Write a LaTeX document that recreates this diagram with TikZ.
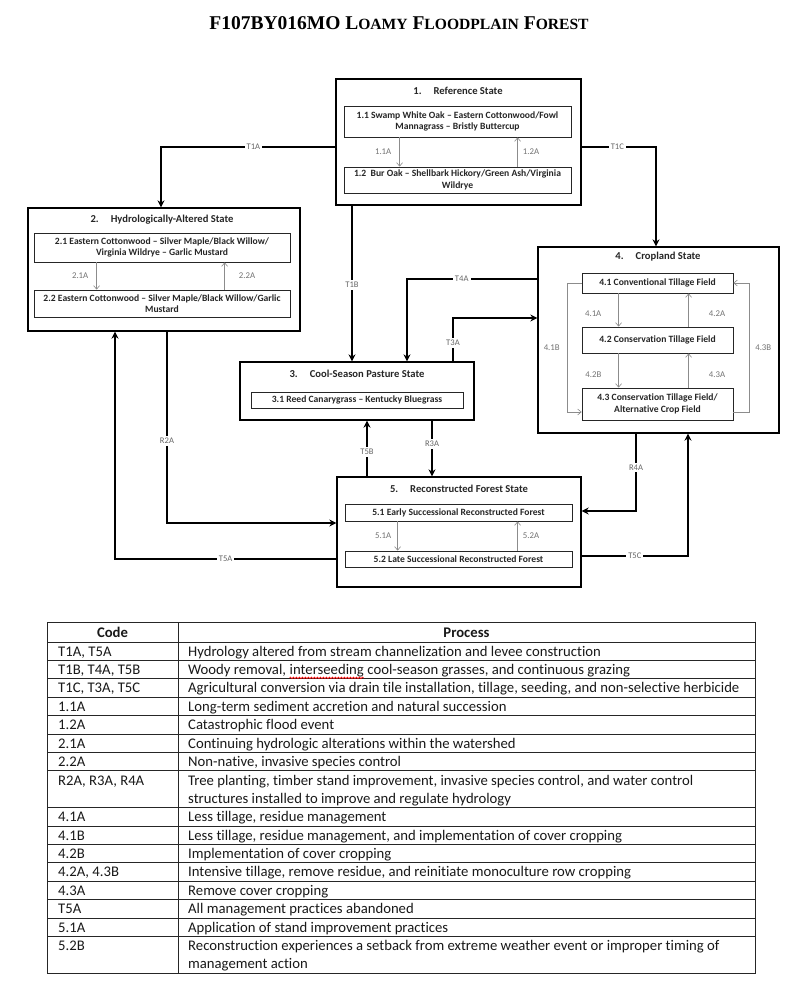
\documentclass[tikz,border=0pt]{standalone}
\usepackage{fontspec}
\setmainfont{Carlito}[Ligatures=NoCommon]
\newfontfamily\titlefont{Liberation Serif}
\usetikzlibrary{arrows.meta,decorations.pathmorphing}
\newcommand\smc[1]{{\fontsize{15.6}{18}\selectfont #1}}
\begin{document}
\begin{tikzpicture}[x=1pt,y=-1pt,
  sbox/.style={draw=black, line width=1.3pt, inner sep=0pt},
  ibox/.style={draw=black!85, line width=0.8pt, inner sep=0pt, align=center,
    font=\bfseries\fontsize{9.6}{11.6}\selectfont, text=black!85},
  stitle/.style={font=\bfseries\fontsize{10.6}{12}\selectfont, text=black!85, inner sep=0pt},
  conn/.style={draw=black, line width=1.4pt, -{Stealth[length=7pt,width=7pt]}},
  lbl/.style={fill=white, text=black!60, font=\fontsize{8.6}{10}\selectfont, inner sep=2pt},
  inarr/.style={draw=black!45, line width=0.6pt, -{Straight Barb[length=3.5pt,width=6pt]}},
  ilbl/.style={text=black!55, font=\fontsize{8.8}{10}\selectfont, inner sep=1pt},
  tbl/.style={draw=black!85, line width=0.8pt},
  tc/.style={font=\fontsize{14.7}{16}\selectfont, inner sep=0pt, anchor=base west, text=black!90},
  th/.style={font=\bfseries\fontsize{14.7}{16}\selectfont, inner sep=0pt, anchor=base, text=black!90},
  wave/.style={draw=red, line width=0.6pt, decorate, decoration={snake, amplitude=0.8pt, segment length=3pt}}
]
\fill[white] (0,0) rectangle (800,999);
\useasboundingbox (0,0) rectangle (800,999);

% title
\node[font=\titlefont\bfseries\fontsize{19.5}{22}\selectfont, inner sep=0pt] (title) at (399,23)
  {F107BY016MO L\smc{OAMY} F\smc{LOODPLAIN} F\smc{OREST}};

% state boxes
\node[sbox, minimum width=245pt, minimum height=126pt] (b1) at (458.5,142) {};
\node[sbox, minimum width=272pt, minimum height=123pt] (b2) at (164,269.5) {};
\node[sbox, minimum width=234pt, minimum height=58pt] (b3) at (357,391) {};
\node[sbox, minimum width=241pt, minimum height=186pt] (b4) at (658.5,340) {};
\node[sbox, minimum width=244pt, minimum height=110pt] (b5) at (459,532) {};

% state titles
\node[stitle] (b1t) at (458,91) {1.\hspace{12pt}Reference State};
\node[stitle] (b2t) at (162,220) {2.\hspace{12pt}Hydrologically-Altered State};
\node[stitle] (b3t) at (357,374) {3.\hspace{12pt}Cool-Season Pasture State};
\node[stitle] (b4t) at (658,257) {4.\hspace{12pt}Cropland State};
\node[stitle] (b5t) at (459,489) {5.\hspace{12pt}Reconstructed Forest State};

% community phase boxes
\node[ibox, minimum width=227pt, minimum height=31pt] (i11) at (457.5,121.5)
  {1.1 Swamp White Oak – Eastern Cottonwood/Fowl\\Mannagrass – Bristly Buttercup};
\node[ibox, minimum width=227pt, minimum height=26pt] (i12) at (457.5,180)
  {1.2\ \ Bur Oak – Shellbark Hickory/Green Ash/Virginia\\Wildrye};
\node[ibox, minimum width=256pt, minimum height=29pt] (i21) at (162,247.5)
  {2.1 Eastern Cottonwood – Silver Maple/Black Willow/\\Virginia Wildrye – Garlic Mustard};
\node[ibox, minimum width=256pt, minimum height=27pt] (i22) at (162,303.5)
  {2.2 Eastern Cottonwood – Silver Maple/Black Willow/Garlic\\Mustard};
\node[ibox, minimum width=212pt, minimum height=16pt] (i31) at (357,400)
  {3.1 Reed Canarygrass – Kentucky Bluegrass};
\node[ibox, minimum width=151pt, minimum height=20pt] (i41) at (657.5,283)
  {4.1 Conventional Tillage Field};
\node[ibox, minimum width=151pt, minimum height=26pt] (i42) at (657.5,340)
  {4.2 Conservation Tillage Field};
\node[ibox, minimum width=151pt, minimum height=32pt] (i43) at (657.5,404)
  {4.3 Conservation Tillage Field/\\Alternative Crop Field};
\node[ibox, minimum width=227pt, minimum height=17pt] (i51) at (458.5,512.5)
  {5.1 Early Successional Reconstructed Forest};
\node[ibox, minimum width=227pt, minimum height=16pt] (i52) at (458.5,559)
  {5.2 Late Successional Reconstructed Forest};

% inner transitions
\draw[inarr] ([xshift=56pt]i11.south west) -- node[ilbl, left=7pt] {1.1A} ([xshift=56pt]i12.north west);
\draw[inarr] ([xshift=174pt]i12.north west) -- node[ilbl, right=4pt] {1.2A} ([xshift=174pt]i11.south west);
\draw[inarr] ([xshift=63pt]i21.south west) -- node[ilbl, left=7pt] {2.1A} ([xshift=63pt]i22.north west);
\draw[inarr] ([xshift=191pt]i22.north west) -- node[ilbl, right=13pt] {2.2A} ([xshift=191pt]i21.south west);
\draw[inarr] ([xshift=37pt]i41.south west) -- node[ilbl, left=16pt, yshift=-4pt] {4.1A} ([xshift=37pt]i42.north west);
\draw[inarr] ([xshift=107pt]i42.north west) -- node[ilbl, right=19pt, yshift=-4pt] {4.2A} ([xshift=107pt]i41.south west);
\draw[inarr] ([xshift=37pt]i42.south west) -- node[ilbl, left=16pt, yshift=-4pt] {4.2B} ([xshift=37pt]i43.north west);
\draw[inarr] ([xshift=107pt]i43.north west) -- node[ilbl, right=19pt, yshift=-4pt] {4.3A} ([xshift=107pt]i42.south west);
\coordinate (l41) at (567,412);
\coordinate (r43) at (749,283);
\draw[inarr] (i41.west) -| node[ilbl, pos=0.75, left=6pt] {4.1B} (l41) -- (l41 -| i43.west);
\draw[inarr] ([yshift=-8pt]i43.east) -| node[ilbl, pos=0.75, right=5pt] {4.3B} (r43) -- (r43 -| i41.east);
\draw[inarr] ([xshift=53pt]i51.south west) -- node[ilbl, left=5pt] {5.1A} ([xshift=53pt]i52.north west);
\draw[inarr] ([xshift=173pt]i52.north west) -- node[ilbl, right=4pt] {5.2A} ([xshift=173pt]i51.south west);

% state transitions
\coordinate (c1a) at (161,147);
\coordinate (c1c) at (656,147);
\coordinate (c1b) at (352,0);
\coordinate (c4a) at (407,279);
\coordinate (c3a) at (453,318);
\coordinate (c5b) at (367,0);
\coordinate (cr3) at (432,0);
\coordinate (cr2) at (167,523);
\coordinate (c5a) at (115,559);
\coordinate (cr4) at (636,511);
\coordinate (c5c) at (688,556);

\draw[conn] (c1a -| b1.west) -- node[lbl, pos=0.47] {T1A} (c1a) -- (c1a |- b2.north);
\draw[conn] (c1c -| b1.east) -- node[lbl, pos=0.48] {T1C} (c1c) -- (c1c |- b4.north);
\draw[conn] (c1b |- b1.south) -- node[lbl, pos=0.51] {T1B} (c1b |- b3.north);
\draw[conn] (c4a -| b4.west) -- node[lbl, pos=0.58] {T4A} (c4a) -- (c4a |- b3.north);
\draw[conn] (c3a |- b3.north) -- node[lbl, pos=0.43] {T3A} (c3a) -- (c3a -| b4.west);
\draw[conn] (c5b |- b5.north) -- node[lbl, pos=0.44] {T5B} (c5b |- b3.south);
\draw[conn] (cr3 |- b3.south) -- node[lbl, pos=0.42] {R3A} (cr3 |- b5.north);
\draw[conn] (cr2 |- b2.south) -- node[lbl, pos=0.57] {R2A} (cr2) -- (cr2 -| b5.west);
\draw[conn] (c5a -| b5.west) -- node[lbl, pos=0.5] {T5A} (c5a) -- (c5a |- b2.south);
\draw[conn] (cr4 |- b4.south) -- node[lbl, pos=0.44] {R4A} (cr4) -- (cr4 -| b5.east);
\draw[conn] (c5c -| b5.east) -- node[lbl, pos=0.5] {T5C} (c5c) -- (c5c |- b4.south);

% table
\draw[tbl] (47,622) rectangle (755,973.2);
\draw[tbl] (178,622) -- (178,973.2);
\foreach \yy in {642,660.4,678.8,697.2,715.6,734,752.4,770.8,807.6,826,844.4,862.8,881.2,899.6,918,936.4}
  \draw[tbl] (47,\yy) -- (755,\yy);

\node[th] (hc) at (112.5,637) {Code};
\node[th] (hp) at (466.5,637) {Process};

\node[tc] (c1) at (58,656) {T1A, T5A};
\node[tc] (p1) at (188,656) {Hydrology altered from stream channelization and levee construction};
\node[tc] (c2) at (58,674.4) {T1B, T4A, T5B};
\node[tc] (p2a) at (188,674.4) {Woody removal,};
\node[tc] (p2b) at ([xshift=3.3pt]p2a.base east) {interseeding};
\node[tc] (p2c) at ([xshift=3.3pt]p2b.base east) {cool-season grasses, and continuous grazing};
\draw[wave] ([yshift=-3.5pt]p2b.base west) -- ([yshift=-3.5pt]p2b.base east);
\node[tc] (c3) at (58,692.8) {T1C, T3A, T5C};
\node[tc] (p3) at (188,692.8) {Agricultural conversion via drain tile installation, tillage, seeding, and non-selective herbicide};
\node[tc] (c4) at (58,711.2) {1.1A};
\node[tc] (p4) at (188,711.2) {Long-term sediment accretion and natural succession};
\node[tc] (c5) at (58,729.6) {1.2A};
\node[tc] (p5) at (188,729.6) {Catastrophic flood event};
\node[tc] (c6) at (58,748) {2.1A};
\node[tc] (p6) at (188,748) {Continuing hydrologic alterations within the watershed};
\node[tc] (c7) at (58,766.4) {2.2A};
\node[tc] (p7) at (188,766.4) {Non-native, invasive species control};
\node[tc] (c8) at (58,785) {R2A, R3A, R4A};
\node[tc] (p8a) at (188,785) {Tree planting, timber stand improvement, invasive species control, and water control};
\node[tc] (p8b) at (188,803) {structures installed to improve and regulate hydrology};
\node[tc] (c9) at (58,821.6) {4.1A};
\node[tc] (p9) at (188,821.6) {Less tillage, residue management};
\node[tc] (c10) at (58,840) {4.1B};
\node[tc] (p10) at (188,840) {Less tillage, residue management, and implementation of cover cropping};
\node[tc] (c11) at (58,858.4) {4.2B};
\node[tc] (p11) at (188,858.4) {Implementation of cover cropping};
\node[tc] (c12) at (58,876.8) {4.2A, 4.3B};
\node[tc] (p12) at (188,876.8) {Intensive tillage, remove residue, and reinitiate monoculture row cropping};
\node[tc] (c13) at (58,895.2) {4.3A};
\node[tc] (p13) at (188,895.2) {Remove cover cropping};
\node[tc] (c14) at (58,913.6) {T5A};
\node[tc] (p14) at (188,913.6) {All management practices abandoned};
\node[tc] (c15) at (58,932) {5.1A};
\node[tc] (p15) at (188,932) {Application of stand improvement practices};
\node[tc] (c16) at (58,950.6) {5.2B};
\node[tc] (p16a) at (188,950.6) {Reconstruction experiences a setback from extreme weather event or improper timing of};
\node[tc] (p16b) at (188,968.6) {management action};
\end{tikzpicture}
\end{document}
